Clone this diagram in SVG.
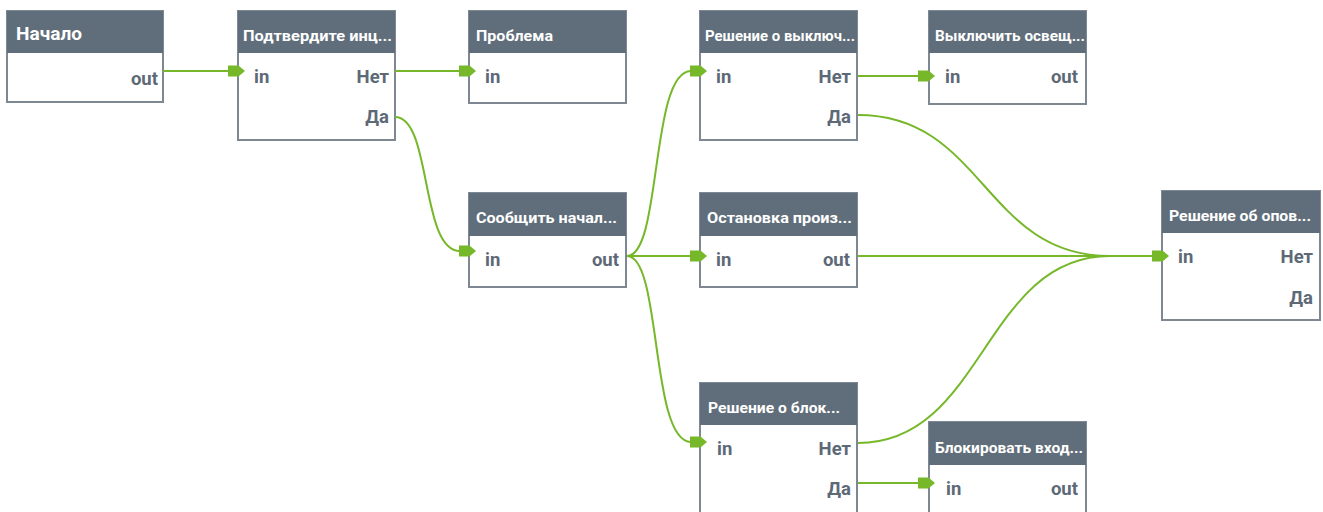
<svg xmlns="http://www.w3.org/2000/svg" width="1323" height="512" viewBox="0 0 1323 512">
<defs>
<style>
.box{fill:#ffffff;stroke:#7d8893;stroke-width:2}
.hdr{fill:#606e7b}
.ht{font-family:Roboto,"Liberation Sans",sans-serif;font-weight:bold;font-size:15.5px;fill:#ffffff}
.pl{font-family:Roboto,"Liberation Sans",sans-serif;font-weight:bold;font-size:18.5px;fill:#5d6976}
.pr{font-family:Roboto,"Liberation Sans",sans-serif;font-weight:bold;font-size:18.5px;fill:#5d6976;text-anchor:end}
.c{fill:none;stroke:#76b82a;stroke-width:2}
.ah{fill:#76b82a}
</style>
<path id="arr" d="M0,-5.5 H10.5 L17,0 L10.5,5.5 H0 Z"/>
</defs>
<rect width="1323" height="512" fill="#ffffff"/>

<g id="n1">
<rect class="box" x="7" y="11" width="156" height="91"/>
<rect class="hdr" x="7" y="11" width="156" height="42"/>
<text class="ht" x="16" y="40" style="font-size:19px" textLength="66" lengthAdjust="spacingAndGlyphs">Начало</text>
<text class="pr" x="158" y="85">out</text>
</g>

<g id="n2">
<rect class="box" x="238" y="11" width="157" height="129"/>
<rect class="hdr" x="238" y="11" width="157" height="42"/>
<text class="ht" x="243" y="41" textLength="149" lengthAdjust="spacingAndGlyphs">Подтвердите инц...</text>
<text class="pl" x="254" y="83">in</text>
<text class="pr" x="389" y="83">Нет</text>
<text class="pr" x="389" y="123">Да</text>
</g>

<g id="n3">
<rect class="box" x="469" y="11" width="157" height="92"/>
<rect class="hdr" x="469" y="11" width="157" height="42"/>
<text class="ht" x="476" y="41" textLength="77" lengthAdjust="spacingAndGlyphs">Проблема</text>
<text class="pl" x="485" y="83">in</text>
</g>

<g id="n4">
<rect class="box" x="700" y="11" width="157" height="129"/>
<rect class="hdr" x="700" y="11" width="157" height="42"/>
<text class="ht" x="705" y="41" textLength="150" lengthAdjust="spacingAndGlyphs">Решение о выключ...</text>
<text class="pl" x="716" y="83">in</text>
<text class="pr" x="851" y="83">Нет</text>
<text class="pr" x="851" y="123">Да</text>
</g>

<g id="n5">
<rect class="box" x="929" y="11" width="157" height="93"/>
<rect class="hdr" x="929" y="11" width="157" height="42"/>
<text class="ht" x="935" y="41" textLength="150" lengthAdjust="spacingAndGlyphs">Выключить освещ...</text>
<text class="pl" x="945" y="83">in</text>
<text class="pr" x="1078" y="83">out</text>
</g>

<g id="n6">
<rect class="box" x="469" y="193" width="157" height="94"/>
<rect class="hdr" x="469" y="193" width="157" height="43"/>
<text class="ht" x="476" y="223" textLength="141" lengthAdjust="spacingAndGlyphs">Сообщить начал...</text>
<text class="pl" x="485" y="266">in</text>
<text class="pr" x="619" y="266">out</text>
</g>

<g id="n7">
<rect class="box" x="700" y="193" width="157" height="94"/>
<rect class="hdr" x="700" y="193" width="157" height="43"/>
<text class="ht" x="707" y="223" textLength="145" lengthAdjust="spacingAndGlyphs">Остановка произ...</text>
<text class="pl" x="716" y="266">in</text>
<text class="pr" x="850" y="266">out</text>
</g>

<g id="n8">
<rect class="box" x="1162" y="191" width="158" height="129"/>
<rect class="hdr" x="1162" y="191" width="158" height="42"/>
<text class="ht" x="1169" y="221" textLength="142" lengthAdjust="spacingAndGlyphs">Решение об опов...</text>
<text class="pl" x="1178" y="263">in</text>
<text class="pr" x="1313" y="263">Нет</text>
<text class="pr" x="1313" y="304">Да</text>
</g>

<g id="n9">
<rect class="box" x="700" y="383" width="157" height="150"/>
<rect class="hdr" x="700" y="383" width="157" height="42"/>
<text class="ht" x="708" y="413" textLength="132" lengthAdjust="spacingAndGlyphs">Решение о блок...</text>
<text class="pl" x="717" y="455">in</text>
<text class="pr" x="851" y="455">Нет</text>
<text class="pr" x="851" y="495">Да</text>
</g>

<g id="n10">
<rect class="box" x="929" y="422" width="157" height="110"/>
<rect class="hdr" x="929" y="422" width="157" height="43"/>
<text class="ht" x="935" y="453" textLength="148" lengthAdjust="spacingAndGlyphs">Блокировать вход...</text>
<text class="pl" x="946" y="495">in</text>
<text class="pr" x="1078" y="495">out</text>
</g>

<g id="connectors">
<path class="c" d="M163,71 H229"/>
<path class="c" d="M395,71 H460"/>
<path class="c" d="M395,117 C432,117 420,251 460,251"/>
<path class="c" d="M627,256 C662,256 650,71 691,71"/>
<path class="c" d="M627,256 H691"/>
<path class="c" d="M627,256 C662,256 650,442 691,442"/>
<path class="c" d="M858,76 H919"/>
<path class="c" d="M858,115 C984,115 984,256 1110,256 H1153"/>
<path class="c" d="M858,256 H1153"/>
<path class="c" d="M858,443 C984,443 984,256 1110,256 H1153"/>
<path class="c" d="M858,483 H919"/>
<use href="#arr" class="ah" x="228" y="71"/>
<use href="#arr" class="ah" x="459" y="71"/>
<use href="#arr" class="ah" x="459" y="251"/>
<use href="#arr" class="ah" x="690" y="71"/>
<use href="#arr" class="ah" x="690" y="256"/>
<use href="#arr" class="ah" x="690" y="442"/>
<use href="#arr" class="ah" x="918" y="76"/>
<use href="#arr" class="ah" x="1152" y="256"/>
<use href="#arr" class="ah" x="918" y="483"/>
</g>
</svg>
